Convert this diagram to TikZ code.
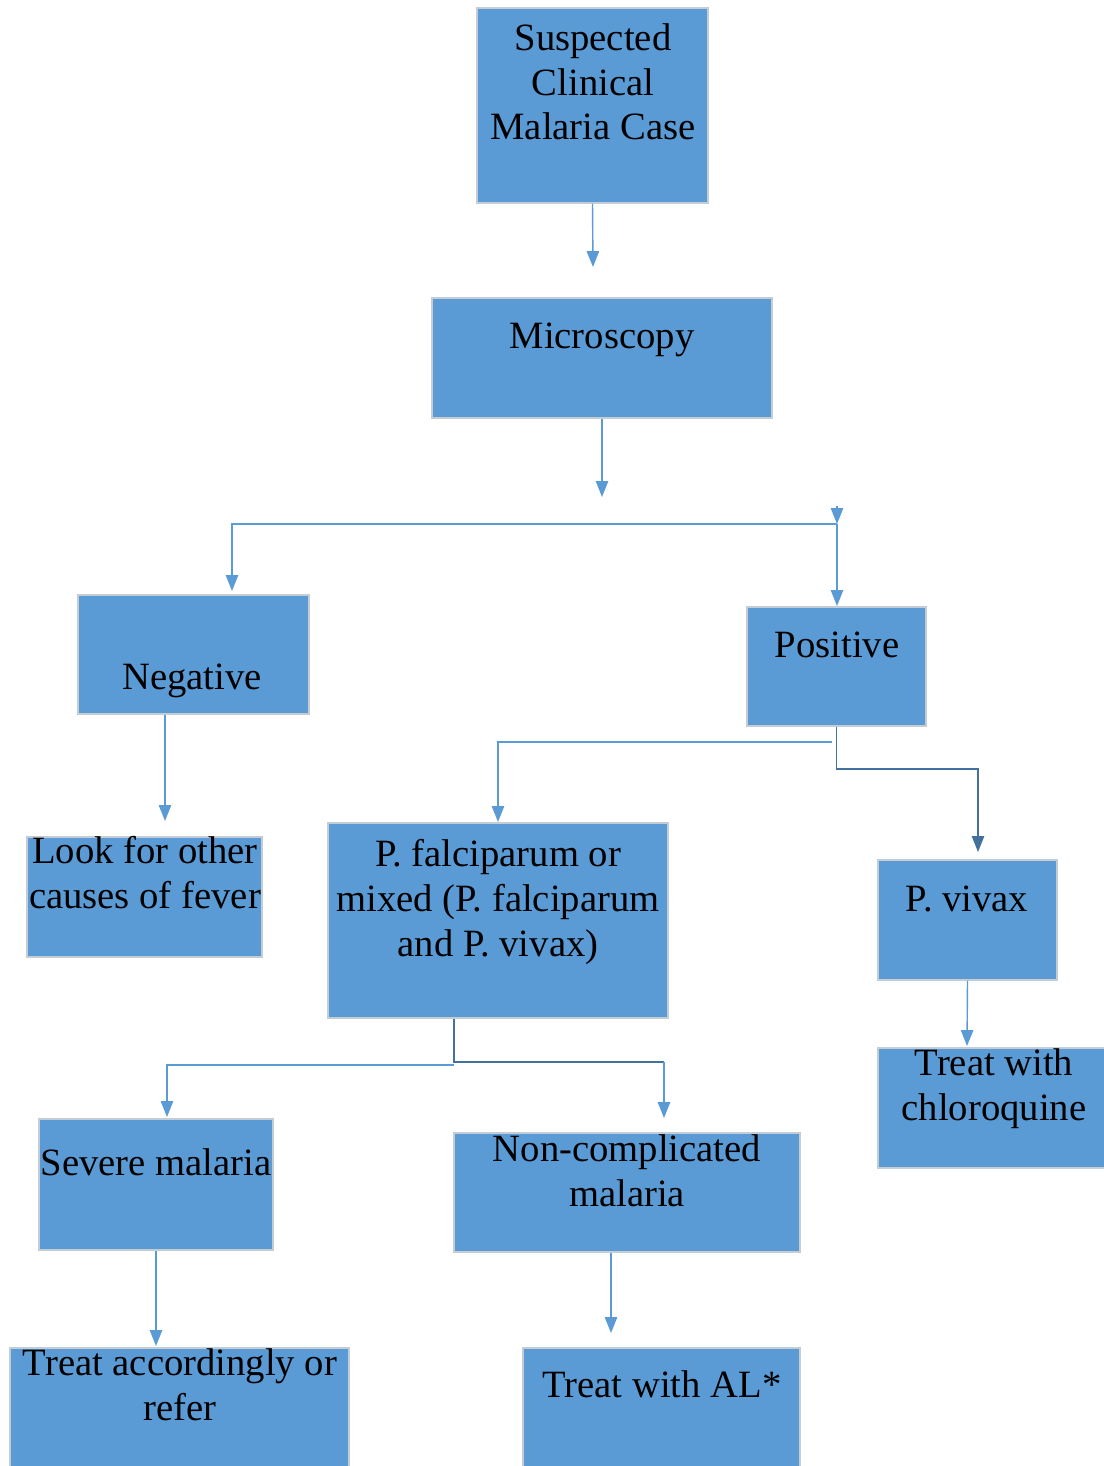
\documentclass[tikz,border=0pt]{standalone}
\usepackage{fontspec}
\setmainfont{Liberation Serif}
\usepackage{tikz}
\usetikzlibrary{arrows.meta,fit}
\definecolor{boxblue}{RGB}{91,155,213}
\definecolor{edgegray}{RGB}{196,204,214}
\definecolor{linkblue}{RGB}{91,155,213}
\definecolor{linkdark}{RGB}{65,113,156}
\tikzset{
  box/.style={draw=edgegray, fill=boxblue, line width=0.6pt, inner sep=0pt},
  txt/.style={align=center, anchor=base, inner sep=0pt, font=\fontsize{22}{25.5}\selectfont},
  link/.style={draw=linkblue, line width=0.8pt},
  conn/.style={link, -{Triangle[width=7pt,length=9pt]}},
}

\begin{document}
\begin{tikzpicture}[x=0.02cm, y=-0.02cm]
  \useasboundingbox (0,0) rectangle (1103,1466);
  % boxes
  \node[box, fit={(477,8) (708,203)}] (susp) {};
  \node[box, fit={(432,298) (772,418)}] (micro) {};
  \node[box, fit={(78,595) (309,714)}] (neg) {};
  \node[box, fit={(747,607) (926,726)}] (pos) {};
  \node[box, fit={(27,837) (262,957)}] (look) {};
  \node[box, fit={(328,823) (668,1018)}] (falc) {};
  \node[box, fit={(878,860) (1057,980)}] (viv) {};
  \node[box, fit={(878,1048) (1108,1168)}] (chlor) {};
  \node[box, fit={(39,1119) (273,1250)}] (sev) {};
  \node[box, fit={(454,1133) (800,1252)}] (nonc) {};
  \node[box, fit={(10,1348) (349,1475)}] (refer) {};
  \node[box, fit={(523,1348) (800,1475)}] (al) {};
  % texts (base = last line)
  \node[txt] (susptxt) at (593,140) {Suspected\\Clinical\\Malaria Case};
  \node[txt] (microtxt) at (602,348) {Microscopy};
  \node[txt] (negtxt) at (192,689) {Negative};
  \node[txt] (postxt) at (837,657) {Positive};
  \node[txt] (looktxt) at (145,908) {Look for other\\causes of fever};
  \node[txt] (falctxt) at (498,956) {P. falciparum or\\mixed (P. falciparum\\and P. vivax)};
  \node[txt] (vivtxt) at (967,911) {P. vivax};
  \node[txt] (chlortxt) at (994,1120) {Treat with\\chloroquine};
  \node[txt] (sevtxt) at (156,1175) {Severe malaria};
  \node[txt] (nonctxt) at (627,1206) {Non-complicated\\malaria};
  \node[txt] (refertxt) at (180,1420) {Treat accordingly or\\refer};
  \node[txt] (altxt) at (662,1397) {Treat with AL*};
  % arrow ends and bends
  \coordinate (microin) at (593,267);
  \coordinate (split) at (602,497);
  \coordinate (forktop) at (837,506);
  \coordinate (fork) at (837,524);
  \coordinate (negin) at (232,591);
  \coordinate (posin) at (837,606);
  \coordinate (lookin) at (165,821);
  \coordinate (falcbend) at (832,742);
  \coordinate (falcin) at (498,822);
  \coordinate (vivbend) at (978,769);
  \coordinate (vivin) at (978,852);
  \coordinate (stem) at (454,1062);
  \coordinate (sevbend) at (454,1065);
  \coordinate (sevin) at (167,1117);
  \coordinate (noncin) at (664,1118);
  \coordinate (chlorin) at (967,1046);
  \coordinate (referin) at (156,1346);
  \coordinate (alin) at (611,1333);
  % connectors
  \draw[conn] (susp.south) -- (microin);
  \draw[conn] (micro.south) -- (split);
  \draw[conn] (fork) -| (negin);
  \draw[conn] (forktop) -- (fork);
  \draw[conn] (fork) -- (posin);
  \draw[conn] (neg.south -| lookin) -- (lookin);
  \draw[conn] (falcbend) -| (falcin);
  \draw[conn, draw=linkdark] (pos.south) |- (vivbend) -- (vivin);
  \draw[link, draw=linkdark] (falc.south -| stem) -- (stem) -- (stem -| noncin);
  \draw[conn] (stem -| noncin) -- (noncin);
  \draw[conn] (sevbend) -| (sevin);
  \draw[conn] (viv.south) -- (chlorin);
  \draw[conn] (sev.south) -- (referin);
  \draw[conn] (nonc.south -| alin) -- (alin);
\end{tikzpicture}
\end{document}
